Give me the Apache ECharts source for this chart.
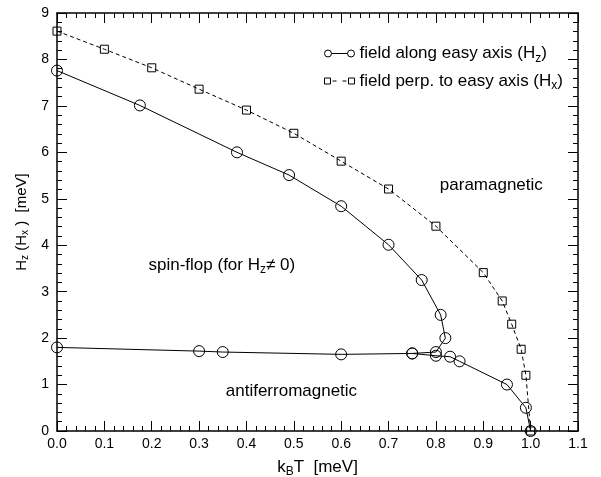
<!DOCTYPE html>
<html>
<head>
<meta charset="utf-8">
<script src="https://cdn.jsdelivr.net/npm/echarts@6/dist/echarts.min.js"></script>
<style>html,body{margin:0;padding:0;background:#fff}#c{width:601px;height:477px}</style>
</head>
<body>
<div id="c"></div>
<script>
// Field along easy axis (Hz): upper boundary (spin-flop -> paramagnetic)
var hzUpperT = [0.00, 0.175, 0.38, 0.49, 0.60, 0.70, 0.77, 0.81, 0.82, 0.80, 0.75];
var hzUpperH = [7.76, 7.01, 6.00, 5.51, 4.84, 4.01, 3.25, 2.50, 2.00, 1.70, 1.67];
// Field along easy axis (Hz): lower boundary (antiferromagnetic)
var hzLowerT = [0.00, 0.30, 0.35, 0.60, 0.75, 0.80, 0.83, 0.85, 0.95, 0.99, 1.00];
var hzLowerH = [1.80, 1.72, 1.70, 1.65, 1.67, 1.62, 1.60, 1.50, 1.00, 0.50, 0.00];
// Field perpendicular to easy axis (Hx)
var hxT = [0.00, 0.10, 0.20, 0.30, 0.40, 0.50, 0.60, 0.70, 0.80, 0.90, 0.94, 0.96, 0.98, 0.99, 1.00];
var hxH = [8.61, 8.22, 7.82, 7.36, 6.91, 6.41, 5.81, 5.21, 4.41, 3.41, 2.80, 2.30, 1.76, 1.20, 0.00];
// Region labels
var regionNames = ['paramagnetic', 'spin-flop', 'antiferromagnetic'];
var regionT = [0.917, 0.348, 0.495];
var regionH = [5.30, 3.57, 0.86];
var regionText = ['paramagnetic', 'spin-flop (for H{sub|z}\u2260 0)', 'antiferromagnetic'];

var xMin = 0, xMax = 1.1, xStep = 0.1;
var yMin = 0, yMax = 9, yStep = 1;

function zip(a, b) { return a.map(function (v, i) { return [v, b[i]]; }); }

var FONT = 'Liberation Sans, Arial, Helvetica, sans-serif';
var subStyle = { fontSize: 12, fontFamily: FONT, color: '#000', padding: [9, 0, 0, 0] };

var chart = echarts.init(document.getElementById('c'), null, { renderer: 'canvas' });

var axisCommon = {
  type: 'value',
  axisLine: { show: true, onZero: false, lineStyle: { color: '#000', width: 1.5 } },
  axisTick: { show: true, inside: true, length: 10, lineStyle: { color: '#000', width: 1 } },
  minorTick: { show: true, splitNumber: 5, length: 5, lineStyle: { color: '#000', width: 1 } },
  splitLine: { show: false },
  minorSplitLine: { show: false }
};

function ax(extra) { return Object.assign({}, JSON.parse(JSON.stringify(axisCommon)), extra); }

var circleStyle = { color: 'rgba(0,0,0,0)', borderColor: '#000', borderWidth: 1, opacity: 1 };
var legendItemStyle = { color: 'rgba(0,0,0,0)', borderColor: '#000', borderWidth: 1 };
var iconCircles = 'path://M0,6A3.5,3.5 0 1,0 7,6A3.5,3.5 0 1,0 0,6Z M23,6A3.5,3.5 0 1,0 30,6A3.5,3.5 0 1,0 23,6Z M7,6L23,6';
var iconSquares = 'path://M0,3L6,3L6,9L0,9Z M24,3L30,3L30,9L24,9Z M8,6L12,6 M18,6L22,6';

var option = {
  animation: false,
  backgroundColor: '#fff',
  grid: { left: 57, right: 23, top: 13, bottom: 46, containLabel: false, outerBoundsMode: 'none' },
  xAxis: [
    ax({
      min: xMin, max: xMax, interval: xStep, position: 'bottom',
      axisLabel: { show: true, color: '#000', fontSize: 14, fontFamily: FONT, margin: 6,
        formatter: function (v) { return v.toFixed(1); } },
      name: '{n|k}{sub|B}{n|T  [meV]}', nameLocation: 'middle', nameGap: 26,
      nameTextStyle: { rich: { n: { fontSize: 17, fontFamily: FONT, color: '#000' }, sub: { fontSize: 12, fontFamily: FONT, color: '#000', padding: [9, 0, 0, 0] } } }
    }),
    ax({ min: xMin, max: xMax, interval: xStep, position: 'top', axisLabel: { show: false } })
  ],
  yAxis: [
    ax({
      min: yMin, max: yMax, interval: yStep, position: 'left',
      axisLabel: { show: true, color: '#000', fontSize: 14, fontFamily: FONT, margin: 8 },
      name: '{n|H}{sub|z}{n| (H}{sub|x}{n| )  [meV]}', nameLocation: 'middle', nameGap: 25, nameRotate: 90,
      nameTextStyle: { rich: { n: { fontSize: 15, fontFamily: FONT, color: '#000' }, sub: { fontSize: 10, fontFamily: FONT, color: '#000', padding: [7, 0, 0, 0] } } }
    }),
    ax({ min: yMin, max: yMax, interval: yStep, position: 'right', axisLabel: { show: false } })
  ],
  legend: {
    orient: 'vertical', left: 319, top: 40, itemGap: 8, itemWidth: 30, itemHeight: 12,
    symbolKeepAspect: true,
    data: [
      { name: 'Hz', icon: iconCircles, itemStyle: legendItemStyle },
      { name: 'Hx', icon: iconSquares, itemStyle: legendItemStyle }
    ],
    textStyle: { fontSize: 17, fontFamily: FONT, color: '#000',
      rich: { sub: { fontSize: 12, fontFamily: FONT, color: '#000', padding: [10, 0, 0, 0] } } },
    formatter: function (name) {
      return name === 'Hz' ? 'field along easy axis (H{sub|z})' : 'field perp. to easy axis (H{sub|x})';
    }
  },
  series: [
    {
      name: 'Hz', type: 'line', data: zip(hzUpperT, hzUpperH),
      symbol: 'circle', symbolSize: 11, itemStyle: circleStyle,
      lineStyle: { color: '#000', width: 1 }, z: 3
    },
    {
      name: 'Hz', type: 'line', data: zip(hzLowerT, hzLowerH),
      symbol: 'circle', symbolSize: 11, itemStyle: circleStyle,
      lineStyle: { color: '#000', width: 1 }, z: 3
    },
    {
      name: 'Hx', type: 'line', data: zip(hxT, hxH),
      symbol: 'rect', symbolSize: 8, itemStyle: circleStyle,
      lineStyle: { color: '#000', width: 1, type: [4, 3] }, z: 2
    },
    {
      name: 'regions', type: 'scatter', symbolSize: 0, silent: true,
      itemStyle: { opacity: 1, color: '#000' },
      data: regionT.map(function (t, i) { return { name: regionNames[i], value: [t, regionH[i]] }; }),
      label: {
        show: true, position: 'inside', color: '#000', opacity: 1, fontSize: 17, fontFamily: FONT,
        formatter: function (p) { return regionText[p.dataIndex]; },
        rich: { sub: subStyle }
      }
    }
  ]
};
chart.setOption(option);
</script>
</body>
</html>
